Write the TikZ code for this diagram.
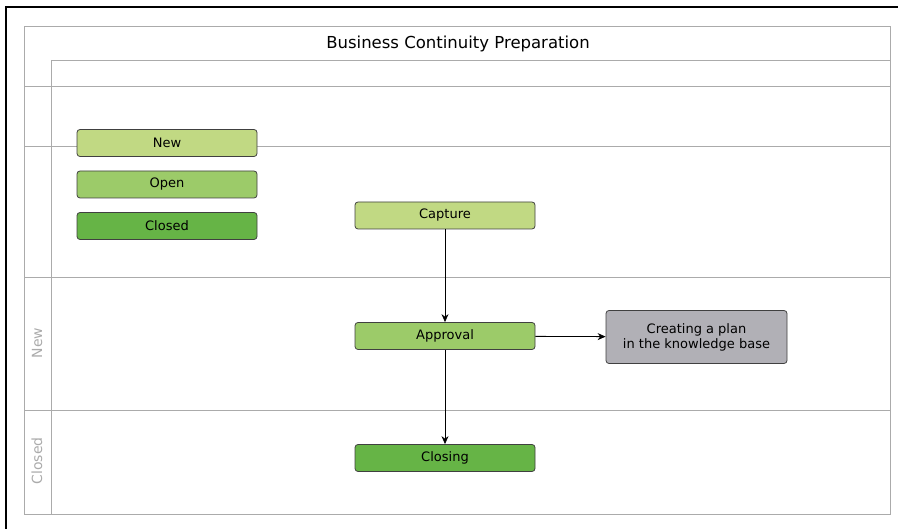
\documentclass[tikz,border=0pt]{standalone}
\usepackage{fontspec}
\setmainfont{DejaVu Sans}
\usetikzlibrary{arrows.meta}
\definecolor{newgreen}{HTML}{C1D983}
\definecolor{opengreen}{HTML}{9CCB69}
\definecolor{closedgreen}{HTML}{66B446}
\definecolor{taskgray}{HTML}{B1B0B6}
\definecolor{lanegray}{HTML}{ABABAB}
\begin{document}
\begin{tikzpicture}[x=1pt,y=-1pt,>={Stealth[length=8pt,width=7pt]},
  statebox/.style={draw=black!75,line width=0.8pt,rounded corners=3pt,minimum width=180pt,minimum height=27pt,inner sep=0pt,font=\fontsize{13}{16}\selectfont},
  lane/.style={draw=lanegray,line width=0.8pt},
  flow/.style={->,line width=0.8pt}]
\useasboundingbox (0,0) rectangle (898,529);
\draw[line width=2pt] (6,529) -- (6,7) -- (898,7);
\draw[lane] (24,26) rectangle (890,514);
\draw[lane] (51,60) -- (51,514);
\draw[lane] (51,60) -- (890,60);
\foreach \y in {86,146,277,410}{\draw[lane] (24,\y) -- (890,\y);}
\node (title) at (458,44) {\fontsize{16.5}{19}\selectfont Business Continuity Preparation};
\node[rotate=90,text=lanegray,font=\fontsize{14}{16}\selectfont] (lnew) at (37,343) {New};
\node[rotate=90,text=lanegray,font=\fontsize{14}{16}\selectfont] (lclosed) at (37,461) {Closed};
% legend
\node[statebox,fill=newgreen] (new) at (167,143) {New};
\node[statebox,fill=opengreen] (open) at (167,184.5) {Open};
\node[statebox,fill=closedgreen] (closed) at (167,226) {Closed};
% process
\node[statebox,fill=newgreen] (capture) at (445,215.5) {Capture};
\node[statebox,fill=opengreen] (approval) at (445,336) {Approval};
\node[statebox,fill=closedgreen] (closing) at (445,458) {Closing};
\node[statebox,fill=taskgray,minimum width=181pt,minimum height=53pt,align=center,font=\fontsize{13}{15}\selectfont] (plan) at (696.5,337) {Creating a plan\\ in the knowledge base};
\draw[flow] (capture) -- (approval);
\draw[flow] (approval) -- (closing);
\draw[flow] (approval) -- (plan);
\end{tikzpicture}
\end{document}
